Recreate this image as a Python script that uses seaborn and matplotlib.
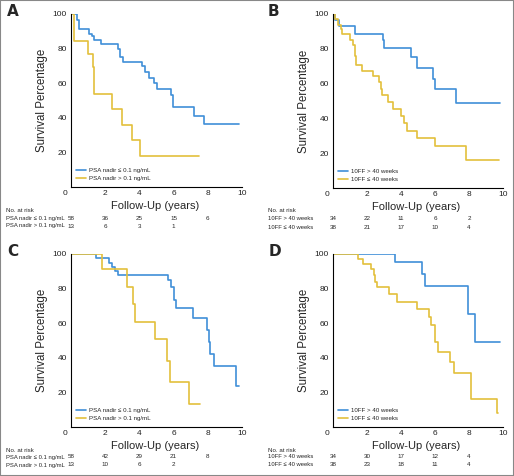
"""
Kaplan-Meier style survival curves, four panels (A-D) with numbers at risk.
"""

import matplotlib.pyplot as plt
import matplotlib.transforms as mtransforms
from matplotlib.patches import Rectangle
import pandas as pd
import seaborn as sns

sns.set_theme(context="paper", style="white")
plt.rcParams["font.family"] = ["Liberation Sans Narrow", "Liberation Sans", "DejaVu Sans"]

BLUE = "#3f8fd8"
YELLOW = "#e3c03c"

# Labels
psa_labels = ["PSA nadir \u2264 0.1 ng/mL", "PSA nadir > 0.1 ng/mL"]
ff_labels = ["10FF > 40 weeks", "10FF \u2264 40 weeks"]
risk_years = [0, 2, 4, 6, 8]

# Panel A
a_low_t = [0, 0.33, 0.45, 1.08, 1.2, 1.33, 1.73, 2.75, 2.85, 3.05, 4.18, 4.3,
           4.55, 4.86, 5.0, 5.82, 5.96, 7.2, 7.78, 9.8]
a_low_s = [100, 96.5, 91.3, 88.5, 87.5, 84.8, 82.7, 79.8, 75.0, 72.5, 69.8, 66.7,
           63.1, 60.2, 56.7, 53.1, 46.0, 41.2, 36.2, 36.2]
a_high_t = [0, 0.15, 0.98, 1.3, 1.35, 2.37, 3.0, 3.55, 4.04, 7.5]
a_high_s = [100, 84.6, 76.9, 69.2, 53.8, 44.9, 35.9, 26.9, 17.9, 17.9]
a_risk_low = [58, 36, 25, 15, 6]
a_risk_high = [13, 6, 3, 1]

# Panel B
b_long_t = [0, 0.1, 0.33, 1.31, 2.94, 2.98, 4.6, 4.94, 5.88, 6.0, 7.25, 9.84]
b_long_s = [100, 96.7, 92.9, 88.7, 84.8, 80.6, 75.0, 69.2, 62.9, 56.7, 48.7, 48.7]
b_short_t = [0, 0.1, 0.3, 0.45, 0.55, 1.02, 1.15, 1.3, 1.35, 1.7, 2.33, 2.7,
             2.84, 2.9, 3.24, 3.5, 4.02, 4.2, 4.35, 4.96, 5.98, 7.8, 9.75]
b_short_s = [100, 97.0, 93.8, 91.5, 88.3, 85.0, 82.1, 76.0, 70.6, 67.5, 64.2, 60.9,
             57.0, 53.5, 49.6, 45.6, 41.5, 37.1, 32.9, 29.0, 24.4, 16.3, 16.3]
b_risk_long = [34, 22, 11, 6, 2]
b_risk_short = [38, 21, 17, 10, 4]

# Panel C
c_low_t = [0, 1.45, 2.23, 2.4, 2.6, 2.77, 5.7, 5.82, 6.0, 6.15, 7.13, 7.95, 8.05,
           8.1, 8.34, 9.65, 9.8]
c_low_s = [100, 97.5, 95.0, 92.5, 90.4, 87.9, 84.8, 80.7, 73.2, 68.6, 63.0, 55.9,
           49.0, 42.4, 35.3, 23.7, 23.7]
c_high_t = [0, 1.8, 3.26, 3.65, 3.75, 4.9, 5.6, 5.8, 6.9, 7.52]
c_high_s = [100, 91.1, 80.7, 70.9, 60.9, 50.7, 38.3, 25.8, 13.1, 13.1]
c_risk_low = [58, 42, 29, 21, 8]
c_risk_high = [13, 10, 6, 2]

# Panel D
d_long_t = [0, 3.67, 5.24, 5.39, 7.94, 8.33, 9.84]
d_long_s = [100, 95.2, 88.4, 81.7, 65.5, 49.1, 49.1]
d_short_t = [0, 1.47, 1.76, 2.25, 2.39, 2.49, 2.6, 3.27, 3.78, 4.94, 5.65, 5.78,
             5.98, 6.2, 6.9, 7.12, 8.1, 9.67, 9.72]
d_short_s = [100, 97.1, 94.0, 91.1, 87.7, 84.0, 80.8, 76.7, 72.5, 68.4, 63.6, 58.8,
             49.0, 43.6, 37.4, 31.4, 16.2, 8.1, 8.1]
d_risk_long = [34, 30, 17, 12, 4]
d_risk_short = [38, 23, 18, 11, 4]

W, H = 514, 476
fig = plt.figure(figsize=(W / 100, H / 100), dpi=100)


def px_rect(left, top, right, bottom):
  return [left / W, 1 - bottom / H, (right - left) / W, (bottom - top) / H]


def draw_panel(rect, letter, letter_xy, series, labels, risks, table_y, table_x):
  ax = fig.add_axes(rect)
  frames = []
  for (t, s), lab in zip(series, labels):
    frames.append(pd.DataFrame({"time": t, "surv": s, "group": lab}))
  df = pd.concat(frames, ignore_index=True)
  sns.lineplot(
      data=df, x="time", y="surv", hue="group", hue_order=labels,
      palette=[BLUE, YELLOW], drawstyle="steps-post", estimator=None,
      sort=False, lw=1.2, ax=ax
  )
  ax.set_xlim(0, 10)
  ax.set_ylim(0, 100)
  ax.set_xticks([0, 2, 4, 6, 8, 10])
  ax.set_yticks([20, 40, 60, 80, 100])
  ax.tick_params(length=0, labelsize=6, colors="#222222")
  ax.tick_params(axis="y", pad=3)
  ax.tick_params(axis="x", pad=2.5)
  zero = ax.get_xticklabels()[0]
  zero.set_transform(zero.get_transform() + mtransforms.ScaledTranslation(
      -6 / 100, 0, fig.dpi_scale_trans))
  for side in ["top", "right"]:
    ax.spines[side].set_visible(False)
  for side in ["left", "bottom"]:
    ax.spines[side].set_color("black")
    ax.spines[side].set_linewidth(0.8)
  ax.set_xlabel("Follow-Up (years)", fontsize=8, va="center")
  ax.xaxis.set_label_coords(0.49, -0.11)
  ax.set_ylabel("Survival Percentage", fontsize=8.3, va="center")
  ax.yaxis.set_label_coords(-0.17, 0.5)
  ax.legend(
      loc="lower left", bbox_to_anchor=(0.03, 0.035), frameon=False,
      fontsize=4.4, handlelength=1.6, handletextpad=0.5, labelspacing=0.45,
      borderaxespad=0, borderpad=0
  )
  fig.text(letter_xy[0] / W, 1 - letter_xy[1] / H, letter, fontsize=11,
           fontweight="bold", ha="left", va="center", family="DejaVu Sans")
  # numbers at risk
  trans = mtransforms.blended_transform_factory(ax.transData, fig.transFigure)
  fig.text(table_x / W, 1 - table_y[0] / H, "No. at risk", fontsize=4.4,
           ha="left", va="center")
  for row, (lab, vals) in enumerate(zip(labels, risks)):
    y = 1 - table_y[row + 1] / H
    fig.text(table_x / W, y, lab, fontsize=4.2, ha="left", va="center")
    for yr, v in zip(risk_years, vals):
      ax.text(yr, y, str(v), transform=trans, fontsize=4.5, ha="center",
              va="center")
  return ax


draw_panel(px_rect(71, 14, 242, 187), "A", (7, 12),
           [(a_low_t, a_low_s), (a_high_t, a_high_s)], psa_labels,
           [a_risk_low, a_risk_high], (211, 218.5, 226), 6)
draw_panel(px_rect(333, 14, 503, 188), "B", (268, 12),
           [(b_long_t, b_long_s), (b_short_t, b_short_s)], ff_labels,
           [b_risk_long, b_risk_short], (211, 219, 227), 268)
draw_panel(px_rect(71, 254, 242, 427), "C", (7, 251),
           [(c_low_t, c_low_s), (c_high_t, c_high_s)], psa_labels,
           [c_risk_low, c_risk_high], (450, 457, 465), 6)
draw_panel(px_rect(333, 254, 503, 427), "D", (269, 251),
           [(d_long_t, d_long_s), (d_short_t, d_short_s)], ff_labels,
           [d_risk_long, d_risk_short], (450, 457, 465), 268)

fig.patches.append(Rectangle((0, 0), 1, 1, transform=fig.transFigure,
                             fill=False, edgecolor="#888888", lw=1.5))

fig.savefig("out.png", dpi=100)
